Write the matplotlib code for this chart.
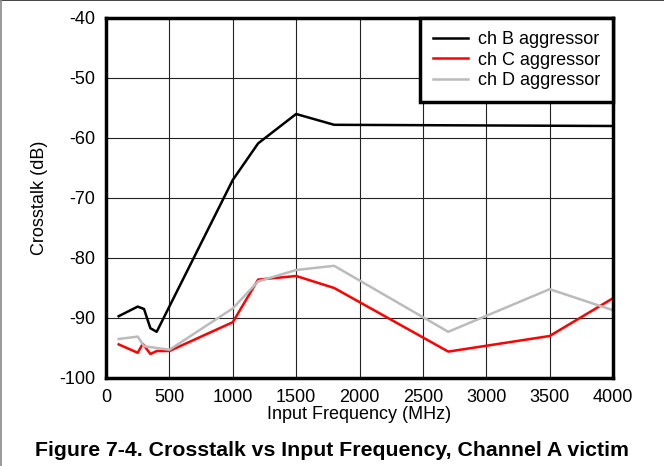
import matplotlib
matplotlib.use('Agg')
import matplotlib.pyplot as plt
from matplotlib.lines import Line2D

plt.rcParams['font.family'] = ['Liberation Sans', 'DejaVu Sans']
plt.rcParams['axes.unicode_minus'] = False

# --- data ---
freq_b = [100, 250, 300, 350, 400, 1000, 1200, 1500, 1800, 4000]
xt_b = [-89.7, -88.1, -88.5, -91.7, -92.3, -67.0, -60.9, -56.0, -57.8, -58.0]

freq_c = [100, 250, 290, 350, 400, 500, 1000, 1200, 1500, 1800, 2700, 3500, 4000]
xt_c = [-94.4, -95.8, -94.3, -96.0, -95.5, -95.5, -90.7, -83.6, -83.0, -85.0, -95.6, -93.0, -86.7]

freq_d = [100, 250, 300, 400, 500, 1000, 1200, 1500, 1800, 2700, 3500, 4000]
xt_d = [-93.5, -93.1, -94.7, -95.0, -95.3, -88.4, -83.9, -82.0, -81.3, -92.3, -85.2, -88.7]

labels = ['ch B aggressor', 'ch C aggressor', 'ch D aggressor']
colors = ['black', '#ff0000', '#bbbbbb']

fig = plt.figure(figsize=(6.64, 4.66), dpi=100)
ax = fig.add_axes([106/664, 1 - 378/466, (613-106)/664, (378-18)/466])

ax.plot(freq_b, xt_b, color=colors[0], lw=1.8, label=labels[0])
ax.plot(freq_c, xt_c, color=colors[1], lw=1.8, label=labels[1])
ax.plot(freq_d, xt_d, color=colors[2], lw=1.8, label=labels[2])

ax.set_xlim(0, 4000)
ax.set_ylim(-100, -40)
ax.set_xticks(range(0, 4001, 500))
ax.set_yticks(range(-100, -39, 10))
ax.grid(True, color='#222222', lw=0.8)
ax.set_axisbelow(True)
ax.tick_params(length=0, pad=8, labelsize=13)
for s in ax.spines.values():
    s.set_linewidth(2.5)
ax.set_xlabel('Input Frequency (MHz)', fontsize=13, labelpad=0)
ax.set_ylabel('Crosstalk (dB)', fontsize=13, labelpad=8)

leg = ax.legend(loc='upper right', fontsize=13, frameon=True, fancybox=False,
                handlelength=1.95, handletextpad=0.55, borderpad=0.72,
                labelspacing=0.2, borderaxespad=0)
leg.get_frame().set_edgecolor('black')
leg.get_frame().set_linewidth(2.5)
leg.get_frame().set_alpha(1)

fig.text(0.5, 1 - 451/466, 'Figure 7-4. Crosstalk vs Input Frequency, Channel A victim',
         ha='center', va='center', fontsize=15.3, fontweight='bold')

# page border lines
fig.add_artist(Line2D([0, 1], [0.999, 0.999], color='#222222', lw=1.2, transform=fig.transFigure))
fig.add_artist(Line2D([0.001, 0.001], [0, 1], color='#888888', lw=1.2, transform=fig.transFigure))

fig.savefig('out.png', dpi=100)
